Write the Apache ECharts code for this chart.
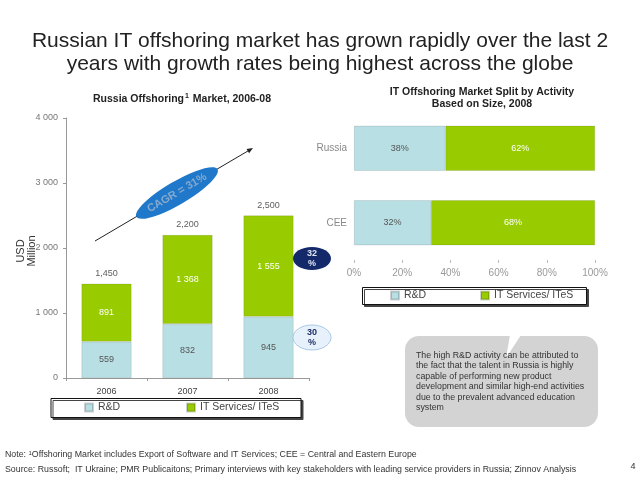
<!DOCTYPE html>
<html><head><meta charset="utf-8">
<script src="https://cdn.jsdelivr.net/npm/echarts@6/dist/echarts.min.js"></script>
<style>html,body{margin:0;padding:0;background:#fff}#c{width:640px;height:480px}</style>
</head><body><div id="c"></div>
<script>
// ---- data ----
const years = ['2006', '2007', '2008'];
const rdValues = [559, 832, 945];
const itValues = [891, 1368, 1555];
const totals = [1450, 2200, 2500];
const regions = ['Russia', 'CEE'];
const rdShare = [38, 32];
const itShare = [62, 68];
const seriesNames = ['R&D', 'IT Services/ ITeS'];

const RD = '#b8dfe4', IT = '#99cc00';
const F = 'Liberation Sans, Arial, sans-serif';

const chart = echarts.init(document.getElementById('c'), null, {renderer: 'canvas'});

function spaceThousands(v) { return String(v).replace(/\B(?=(\d{3})+(?!\d))/g, ' '); }
function commaThousands(v) { return String(v).replace(/\B(?=(\d{3})+(?!\d))/g, ','); }

const arrowTip = [253, 148], arrowStart = [95, 241];
const ang = Math.atan2(arrowStart[1] - arrowTip[1], arrowTip[0] - arrowStart[0]);

const option = {
  animation: false,
  backgroundColor: '#fff',
  textStyle: {fontFamily: F},
  grid: [
    {left: 66, top: 118, width: 243, height: 260, containLabel: false},
    {left: 354, top: 111, width: 241, height: 149, containLabel: false}
  ],
  xAxis: [
    {type: 'category', gridIndex: 0, data: years,
     axisLine: {lineStyle: {color: '#999'}},
     axisTick: {show: true, length: 3, lineStyle: {color: '#999'}},
     axisLabel: {color: '#444', fontSize: 9, margin: 9, fontFamily: F}},
    {type: 'value', gridIndex: 1, min: 0, max: 100, interval: 20,
     axisLine: {show: false},
     axisTick: {show: true, length: 3, lineStyle: {color: '#bbb'}},
     splitLine: {show: false},
     axisLabel: {color: '#999', fontSize: 10, margin: 8, formatter: '{value}%', fontFamily: F}}
  ],
  yAxis: [
    {type: 'value', gridIndex: 0, min: 0, max: 4000, interval: 1000,
     axisLine: {show: true, lineStyle: {color: '#999'}},
     axisTick: {show: true, length: 3, lineStyle: {color: '#999'}},
     splitLine: {show: false},
     axisLabel: {color: '#777', fontSize: 9, margin: 8, formatter: spaceThousands, fontFamily: F}},
    {type: 'category', gridIndex: 1, data: regions, inverse: true,
     axisLine: {show: false}, axisTick: {show: false},
     axisLabel: {color: '#888', fontSize: 10, margin: 7, fontFamily: F}}
  ],
  legend: [
    {data: [seriesNames[0]], left: 84, top: 402, padding: 0, itemWidth: 8, itemHeight: 8, icon: 'rect', z: 10,
     textStyle: {fontSize: 10.5, color: '#444', fontFamily: F}, itemGap: 4, selectedMode: false},
    {data: [seriesNames[1]], left: 186, top: 402, padding: 0, itemWidth: 8, itemHeight: 8, icon: 'rect', z: 10,
     textStyle: {fontSize: 10.5, color: '#444', fontFamily: F}, selectedMode: false},
    {data: [seriesNames[0]], left: 390, top: 290, padding: 0, itemWidth: 8, itemHeight: 8, icon: 'rect', z: 10,
     textStyle: {fontSize: 10.5, color: '#444', fontFamily: F}, selectedMode: false},
    {data: [seriesNames[1]], left: 480, top: 290, padding: 0, itemWidth: 8, itemHeight: 8, icon: 'rect', z: 10,
     textStyle: {fontSize: 10.5, color: '#444', fontFamily: F}, selectedMode: false}
  ],
  series: [
    {name: seriesNames[0], type: 'bar', xAxisIndex: 0, yAxisIndex: 0, stack: 'left', barWidth: 50,
     data: rdValues, itemStyle: {color: RD, borderColor: 'rgba(0,0,0,0.18)', borderWidth: 0.6},
     label: {show: true, position: 'inside', color: '#555', fontSize: 9, fontFamily: F}},
    {name: seriesNames[1], type: 'bar', xAxisIndex: 0, yAxisIndex: 0, stack: 'left', barWidth: 50,
     data: itValues, itemStyle: {color: IT, borderColor: 'rgba(0,0,0,0.18)', borderWidth: 0.6},
     label: {show: true, position: 'inside', color: '#fff', fontSize: 9, fontFamily: F, formatter: p => spaceThousands(p.value)}},
    {name: 'Total', type: 'scatter', xAxisIndex: 0, yAxisIndex: 0, symbolSize: 1,
     data: totals, itemStyle: {color: 'rgba(0,0,0,0)'}, silent: true,
     label: {show: true, position: 'top', distance: 5, color: '#333', fontSize: 9, fontFamily: F, formatter: p => commaThousands(p.value)}},
    {name: seriesNames[0], type: 'bar', xAxisIndex: 1, yAxisIndex: 1, stack: 'right', barWidth: 45,
     data: rdShare, itemStyle: {color: RD, borderColor: 'rgba(0,0,0,0.18)', borderWidth: 0.6},
     label: {show: true, position: 'inside', color: '#555', fontSize: 9, fontFamily: F, formatter: '{c}%'}},
    {name: seriesNames[1], type: 'bar', xAxisIndex: 1, yAxisIndex: 1, stack: 'right', barWidth: 45,
     data: itShare, itemStyle: {color: IT, borderColor: 'rgba(0,0,0,0.18)', borderWidth: 0.6},
     label: {show: true, position: 'inside', color: '#fff', fontSize: 9, fontFamily: F, formatter: '{c}%'}}
  ],
  graphic: [
    // main title
    {type: 'text', x: 320, y: 53, z: 5, style: {text: 'Russian IT offshoring market has grown rapidly over the last 2\nyears with growth rates being highest across the globe',
      font: '21px ' + F, fill: '#222', align: 'center', verticalAlign: 'middle', lineHeight: 23}},
    // left chart title
    {type: 'text', x: 182, y: 99, z: 5, style: {rich: {b: {font: 'bold 10.5px ' + F, fill: '#222'}, s: {font: 'bold 7px ' + F, fill: '#222', verticalAlign: 'top', padding: [0, 1, 5, 1]}},
      text: '{b|Russia Offshoring}{s|1}{b| Market, 2006-08}', align: 'center', verticalAlign: 'middle'}},
    // right chart title
    {type: 'text', x: 482, y: 98, z: 5, style: {text: 'IT Offshoring Market Split by Activity\nBased on Size, 2008',
      font: 'bold 10.5px ' + F, fill: '#222', align: 'center', verticalAlign: 'middle', lineHeight: 12}},
    // y axis name
    {type: 'text', x: 26, y: 251, rotation: Math.PI / 2, z: 5, style: {text: 'USD\nMillion', font: '11px ' + F, fill: '#333', align: 'center', verticalAlign: 'middle', lineHeight: 11}},
    // arrow
    {type: 'line', z: 3, shape: {x1: arrowStart[0], y1: arrowStart[1], x2: arrowTip[0] - 4 * Math.cos(ang), y2: arrowTip[1] + 4 * Math.sin(ang)}, style: {stroke: '#222', lineWidth: 1}},
    {type: 'polygon', z: 3, shape: {points: [arrowTip,
      [arrowTip[0] - 6 * Math.cos(ang) + 2.5 * Math.sin(ang), arrowTip[1] + 6 * Math.sin(ang) + 2.5 * Math.cos(ang)],
      [arrowTip[0] - 6 * Math.cos(ang) - 2.5 * Math.sin(ang), arrowTip[1] + 6 * Math.sin(ang) - 2.5 * Math.cos(ang)]]}, style: {fill: '#222'}},
    // CAGR ellipse
    {type: 'ellipse', x: 177, y: 193, rotation: ang, z: 4, shape: {cx: 0, cy: 0, rx: 47, ry: 11.5}, style: {fill: '#1f78c9'}},
    {type: 'text', x: 177, y: 193, rotation: ang, z: 5, style: {text: 'CAGR = 31%', font: 'bold 11px ' + F, fill: '#86a9cf', align: 'center', verticalAlign: 'middle'}},
    // 32% badge
    {type: 'ellipse', z: 4, shape: {cx: 312, cy: 258.5, rx: 19, ry: 11.5}, style: {fill: '#14296a'}},
    {type: 'text', x: 312, y: 258.5, z: 5, style: {text: '32\n%', font: 'bold 9px ' + F, fill: '#dfe6f5', align: 'center', verticalAlign: 'middle', lineHeight: 10}},
    // 30% badge
    {type: 'ellipse', z: 4, shape: {cx: 312, cy: 337.5, rx: 19, ry: 12.5}, style: {fill: '#e6f1fb', stroke: '#a9c8e6', lineWidth: 1}},
    {type: 'text', x: 312, y: 337.5, z: 5, style: {text: '30\n%', font: 'bold 9px ' + F, fill: '#1d2f66', align: 'center', verticalAlign: 'middle', lineHeight: 10}},
    // legend boxes
    {type: 'rect', z: 0, shape: {x: 51, y: 398.5, width: 250, height: 19}, style: {fill: '#fff', stroke: '#111', lineWidth: 1, shadowColor: '#444', shadowOffsetX: 2, shadowOffsetY: 2, shadowBlur: 0}},
    {type: 'rect', z: 0, shape: {x: 362.5, y: 287.5, width: 224, height: 17}, style: {fill: '#fff', stroke: '#111', lineWidth: 1, shadowColor: '#444', shadowOffsetX: 2, shadowOffsetY: 2, shadowBlur: 0}},
    // callout box
    {type: 'rect', z: 1, shape: {x: 405, y: 336, width: 193, height: 91, r: 14}, style: {fill: '#d3d3d3'}},
    {type: 'polygon', z: 2, shape: {points: [[510, 335], [521, 335], [506, 358]]}, style: {fill: '#fff'}},
    {type: 'text', x: 416, y: 350, z: 5, style: {text: 'The high R&D activity can be attributed to\nthe fact that the talent in Russia is highly\ncapable of performing new product\ndevelopment and similar high-end activities\ndue to the prevalent advanced education\nsystem',
      font: '8.8px ' + F, fill: '#333', align: 'left', verticalAlign: 'top', lineHeight: 10.5}},
    // footer
    {type: 'text', x: 5, y: 455, z: 5, style: {rich: {n: {font: '8.8px ' + F, fill: '#333'}, s: {font: '6px ' + F, fill: '#333', verticalAlign: 'top', padding: [0, 0, 4, 0]}},
      text: '{n|Note: }{s|1}{n|Offshoring Market includes Export of Software and IT Services; CEE = Central and Eastern Europe}', align: 'left', verticalAlign: 'middle'}},
    {type: 'text', x: 5, y: 470, z: 5, style: {text: 'Source: Russoft;  IT Ukraine; PMR Publicaitons; Primary interviews with key stakeholders with leading service providers in Russia; Zinnov Analysis',
      font: '8.8px ' + F, fill: '#333', align: 'left', verticalAlign: 'middle'}},
    {type: 'text', x: 633, y: 467, z: 5, style: {text: '4', font: '9px ' + F, fill: '#333', align: 'center', verticalAlign: 'middle'}}
  ]
};
chart.setOption(option);
</script>
</body></html>
